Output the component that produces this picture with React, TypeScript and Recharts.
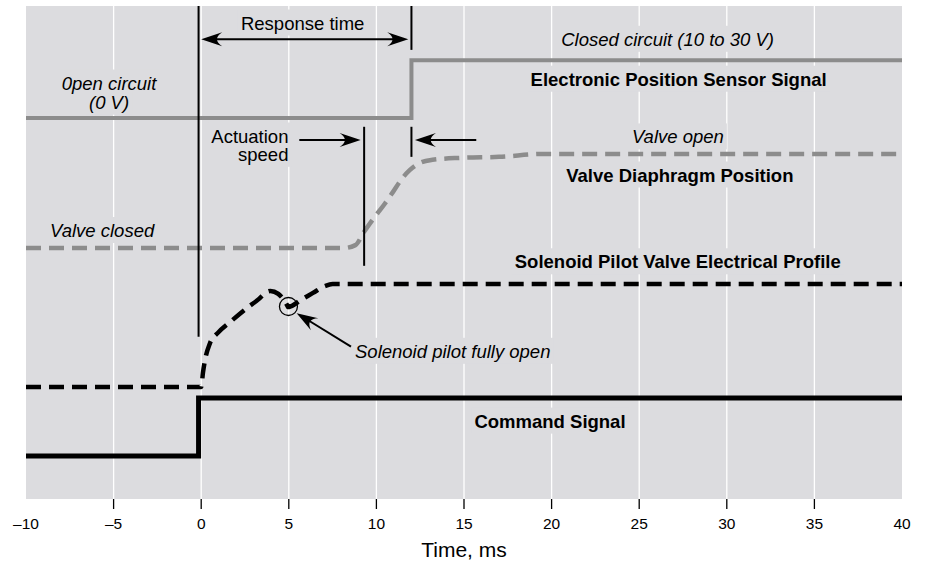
import React from 'react';
import {
  ComposedChart,
  Line,
  XAxis,
  YAxis,
  CartesianGrid,
  ReferenceLine,
  ReferenceDot,
} from 'recharts';

// ---------- data ----------
const xTicks = [-10, -5, 0, 5, 10, 15, 20, 25, 30, 35, 40];
const xTickLabels = ['–10', '–5', '0', '5', '10', '15', '20', '25', '30', '35', '40'];
const gridValues = [-5, 0, 5, 10, 15, 20, 25, 30, 35];

const sensorT = [-10, 12, 12, 40];
const sensorV = [77.3, 77.3, 89.0, 89.0];

const diaphragmT = [-10, 8.1, 8.8, 9.3, 9.9, 10.5, 10.95, 11.4, 11.9, 12.5, 13.2, 14.8, 17.0, 19.6, 40];
const diaphragmV = [50.9, 50.9, 51.5, 54.2, 57.2, 60.0, 62.3, 64.7, 66.7, 68.2, 68.8, 69.2, 69.4, 70.0, 70.0];

const solenoidT = [-10, 0, 0.1, 0.22, 0.5, 0.95, 1.75, 2.6, 3.3, 3.7, 3.95, 4.4, 4.72, 5.0, 5.7, 6.38, 7.07, 7.5, 40];
const solenoidV = [22.7, 22.7, 25.6, 28.2, 31.6, 33.7, 36.2, 38.7, 40.6, 41.9, 42.2, 41.6, 40.4, 39.0, 40.4, 41.8, 43.2, 43.6, 43.6];

const commandT = [-10, -0.15, -0.15, 40];
const commandV = [8.7, 8.7, 20.5, 20.5];

// annotation texts (time, level, text)
const labelTexts = [
  'Response time',
  '0pen circuit',
  '(0 V)',
  'Actuation',
  'speed',
  'Valve closed',
  'Closed circuit (10 to 30 V)',
  'Electronic Position Sensor Signal',
  'Valve open',
  'Valve Diaphragm Position',
  'Solenoid Pilot Valve Electrical Profile',
  'Solenoid pilot fully open',
  'Command Signal',
];
const labelT = [5.79, -5.26, -5.26, 4.98, 4.98, -8.63, 26.62, 27.25, 27.21, 27.32, 27.2, 8.78, 19.91];
const labelV = [95.23, 83.06, 79.17, 72.31, 68.6, 53.14, 91.93, 83.83, 72.13, 64.4, 46.8, 28.64, 14.48];
const labelKind = ['r', 'i', 'i', 'r', 'r', 'i', 'i', 'b', 'i', 'b', 'b', 'i', 'b'];
const labelAnchor = ['middle', 'middle', 'middle', 'end', 'end', 'start', 'middle', 'middle', 'middle', 'middle', 'middle', 'start', 'middle'];

// marker lines [t, v1, v2]
const markT = [-0.15, 12, 12, 9.3];
const markV1 = [100, 100, 75.5, 75.5];
const markV2 = [32.9, 91.1, 69.4, 47.3];

// arrows: from (t1,v1) to (t2,v2)
const arrowT1 = [0, 5.6, 15.7, 8.55];
const arrowV1 = [93.25, 72.8, 72.8, 30.9];
const arrowT2 = [11.82, 9.1, 12.2, 5.45];
const arrowV2 = [93.25, 72.8, 72.8, 37.7];
const arrowBoth = [true, false, false, false];

const circleT = 4.98;
const circleV = 39.05;

// ---------- styles ----------
const FONT = "'Liberation Sans', Arial, Helvetica, sans-serif";
const BG = '#dcdcdf';
const GRAY = '#8c8c8c';
const FS = 18.5;

const toData = (T: number[], V: number[]) => T.map((t, i) => ({ t, v: V[i] }));
const sensorData = toData(sensorT, sensorV);
const diaphragmData = toData(diaphragmT, diaphragmV);
const solenoidData = toData(solenoidT, solenoidV);
const commandData = toData(commandT, commandV);

let ctx: CanvasRenderingContext2D | null = null;
function measure(text: string, font: string): number {
  if (!ctx) {
    const c = document.createElement('canvas');
    ctx = c.getContext('2d');
  }
  if (!ctx) return text.length * FS * 0.55;
  ctx.font = font;
  return ctx.measureText(text).width;
}

const TICK_SIZE = 10;
const TICK_MARGIN = 9;

function renderTick(props: any) {
  const { x, y, payload } = props;
  const val = payload.value;
  const idx = xTicks.indexOf(val);
  const isEdge = idx === 0 || idx === xTicks.length - 1;
  return (
    <g>
      {!isEdge && (
        <line
          x1={x}
          x2={x}
          y1={y - TICK_MARGIN - TICK_SIZE}
          y2={y - TICK_MARGIN}
          stroke="#000"
          strokeWidth={1.3}
        />
      )}
      <text x={x} y={y} dy="0.71em" textAnchor="middle" fontSize={15.5} fill="#000" fontFamily={FONT}>
        {xTickLabels[idx]}
      </text>
    </g>
  );
}

function labelFont(i: number) {
  const kind = labelKind[i];
  return `${kind === 'i' ? 'italic ' : ''}${kind === 'b' ? 'bold ' : ''}${FS}px ${FONT}`;
}

function labelBoxShape(i: number) {
  return (p: any) => {
    const { cx, cy } = p;
    if (cx == null || cy == null) return <g />;
    const w = measure(labelTexts[i], labelFont(i));
    const anchor = labelAnchor[i];
    const left = anchor === 'middle' ? cx - w / 2 : anchor === 'end' ? cx - w : cx;
    return <rect x={left - 3} y={cy - 20} width={w + 6} height={26} fill={BG} />;
  };
}

function labelTextShape(i: number) {
  return (p: any) => {
    const { cx, cy } = p;
    if (cx == null || cy == null) return <g />;
    const kind = labelKind[i];
    return (
      <text
        x={cx}
        y={cy}
        textAnchor={labelAnchor[i]}
        fontSize={FS}
        fontFamily={FONT}
        fontStyle={kind === 'i' ? 'italic' : 'normal'}
        fontWeight={kind === 'b' ? 'bold' : 'normal'}
        fill="#000"
      >
        {labelTexts[i]}
      </text>
    );
  };
}

function arrowShape(both: boolean) {
  return (p: any) => {
    const { x1, y1, x2, y2 } = p;
    if (x1 == null || x2 == null) return <g />;
    const dx = x2 - x1;
    const dy = y2 - y1;
    const len = Math.hypot(dx, dy) || 1;
    const ux = dx / len;
    const uy = dy / len;
    const L = 21;
    const H = 7;
    const head = (tx: number, ty: number, dirx: number, diry: number) => {
      const nx = -diry;
      const ny = dirx;
      const bx = tx - dirx * L;
      const by = ty - diry * L;
      const qx = tx - dirx * L * 0.5;
      const qy = ty - diry * L * 0.5;
      return `M${tx},${ty} L${bx + nx * H},${by + ny * H} Q${qx},${qy} ${bx - nx * H},${by - ny * H} Z`;
    };
    const sx = both ? x1 + ux * L * 0.6 : x1;
    const sy = both ? y1 + uy * L * 0.6 : y1;
    const ex = x2 - ux * L * 0.6;
    const ey = y2 - uy * L * 0.6;
    return (
      <g>
        <line x1={sx} y1={sy} x2={ex} y2={ey} stroke="#000" strokeWidth={2} />
        {both && <path d={head(x1, y1, -ux, -uy)} fill="#000" />}
        <path d={head(x2, y2, ux, uy)} fill="#000" />
      </g>
    );
  };
}

export default function App() {
  return (
    <div
      style={{
        position: 'absolute',
        left: 0,
        top: 0,
        width: 928,
        height: 563,
        background: '#fff',
        fontFamily: FONT,
      }}
    >
      <ComposedChart width={928} height={563} margin={{ top: 6, right: 26, bottom: 0, left: 26 }}>
        <CartesianGrid
          horizontal={false}
          fill={BG}
          fillOpacity={1}
          stroke="#ffffff"
          strokeWidth={1.3}
          verticalValues={gridValues}
        />
        <XAxis
          dataKey="t"
          type="number"
          domain={[-10, 40]}
          ticks={xTicks}
          interval={0}
          allowDataOverflow
          axisLine={false}
          tickLine={false}
          tickSize={TICK_SIZE}
          tickMargin={TICK_MARGIN}
          height={64}
          tick={renderTick}
          label={{ value: 'Time, ms', position: 'insideBottom', offset: 6, fontSize: 21, fill: '#000' }}
        />
        <YAxis hide type="number" domain={[0, 100]} allowDataOverflow />

        {labelTexts.map((_, i) => (
          <ReferenceDot
            key={'box' + i}
            x={labelT[i]}
            y={labelV[i]}
            r={0}
            ifOverflow="visible"
            shape={labelBoxShape(i)}
          />
        ))}
        {labelTexts.map((_, i) => (
          <ReferenceDot
            key={'lbl' + i}
            x={labelT[i]}
            y={labelV[i]}
            r={0}
            ifOverflow="visible"
            shape={labelTextShape(i)}
          />
        ))}

        <Line
          data={sensorData}
          dataKey="v"
          type="linear"
          stroke={GRAY}
          strokeWidth={4}
          dot={false}
          activeDot={false}
          isAnimationActive={false}
        />
        <Line
          data={diaphragmData}
          dataKey="v"
          type="monotone"
          stroke={GRAY}
          strokeWidth={4.5}
          strokeDasharray="15 8"
          dot={false}
          activeDot={false}
          isAnimationActive={false}
        />
        <Line
          data={solenoidData}
          dataKey="v"
          type="monotone"
          stroke="#000"
          strokeWidth={4.5}
          strokeDasharray="15 8"
          dot={false}
          activeDot={false}
          isAnimationActive={false}
        />
        <Line
          data={commandData}
          dataKey="v"
          type="linear"
          stroke="#000"
          strokeWidth={5}
          dot={false}
          activeDot={false}
          isAnimationActive={false}
        />

        {markT.map((t, i) => (
          <ReferenceLine
            key={'mk' + i}
            segment={[
              { x: t, y: markV1[i] },
              { x: t, y: markV2[i] },
            ]}
            stroke="#000"
            strokeWidth={2}
            ifOverflow="visible"
          />
        ))}

        {arrowT1.map((t, i) => (
          <ReferenceLine
            key={'ar' + i}
            segment={[
              { x: t, y: arrowV1[i] },
              { x: arrowT2[i], y: arrowV2[i] },
            ]}
            ifOverflow="visible"
            shape={arrowShape(arrowBoth[i])}
          />
        ))}

        <ReferenceDot
          x={circleT}
          y={circleV}
          r={9}
          fill="none"
          stroke="#000"
          strokeWidth={1.3}
          ifOverflow="visible"
        />
        <ReferenceDot x={circleT} y={circleV} r={2.8} fill="#000" stroke="none" ifOverflow="visible" />
      </ComposedChart>
    </div>
  );
}
